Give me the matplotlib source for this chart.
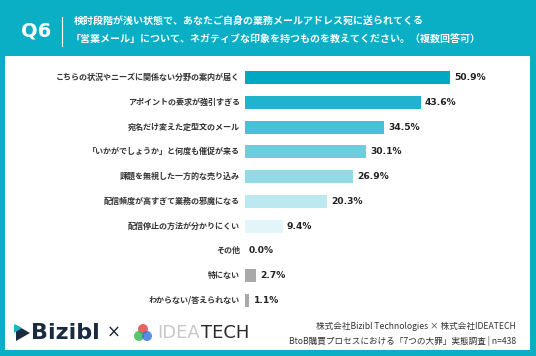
import matplotlib
matplotlib.use("Agg")
import matplotlib.pyplot as plt
from matplotlib.patches import Rectangle, Circle

plt.rcParams['font.family'] = ['Noto Sans CJK JP', 'DejaVu Sans']

# data
labels = [
    'こちらの状況やニーズに関係ない分野の案内が届く',
    'アポイントの要求が強引すぎる',
    '宛名だけ変えた定型文のメール',
    '「いかがでしょうか」と何度も催促が来る',
    '課題を無視した一方的な売り込み',
    '配信頻度が高すぎて業務の邪魔になる',
    '配信停止の方法が分かりにくい',
    'その他',
    '特にない',
    'わからない/答えられない',
]
values = [50.9, 43.6, 34.5, 30.1, 26.9, 20.3, 9.4, 0.0, 2.7, 1.1]
bar_colors = ['#00A8C3', '#1FB4CC', '#47C1D5', '#6CCDDD', '#94DAE6',
              '#BCE8F0', '#E4F5F9', '#A9A9A9', '#A9A9A9', '#A9A9A9']

title_lines = ['検討段階が浅い状態で、あなたご自身の業務メールアドレス宛に送られてくる',
               '「営業メール」について、ネガティブな印象を持つものを教えてください。（複数回答可）']
source_lines = ['株式会社Bizibl Technologies × 株式会社IDEATECH',
                'BtoB購買プロセスにおける「7つの大罪」実態調査 | n=438']

TEAL = '#0AAFC6'
W, H = 536, 356

fig = plt.figure(figsize=(W / 100, H / 100), dpi=100)
fig.patch.set_facecolor(TEAL)

# white panel
bg = fig.add_axes([0, 0, 1, 1])
bg.set_xlim(0, W)
bg.set_ylim(H, 0)
bg.axis('off')
bg.add_patch(Rectangle((5, 56), 525, 294, facecolor='white', edgecolor='none'))

# header
bg.text(21, 31, 'Q6', color='white', fontsize=14, fontweight='bold',
        va='center', ha='left', family=['DejaVu Sans'])
bg.plot([62, 62], [17, 46], color='white', lw=0.8)
bg.text(74, 22, title_lines[0], color='white', fontsize=7.2, fontweight='bold', va='center')
bg.text(71, 40, title_lines[1], color='white', fontsize=7.2, fontweight='bold', va='center')

# bars
ax = fig.add_axes([245 / W, 1 - 312.5 / H, (530 - 245) / W, (312.5 - 65.5) / H])
ax.set_facecolor('none')
ypos = list(range(len(labels)))
ax.barh(ypos, values, height=0.53, color=bar_colors, edgecolor='none')
ax.set_xlim(0, 285 / 4.03)
ax.set_ylim(len(labels) - 0.5, -0.5)
ax.axis('off')
for y, v, lab in zip(ypos, values, labels):
    ax.text(v + 1.0, y, f'{v:.1f}%', fontsize=6.6, fontweight='bold',
            va='center', ha='left', color='#222222', family=['DejaVu Sans'])
    ax.text(-1.2, y, lab, fontsize=5.8, fontweight='bold', va='center',
            ha='right', color='#333333')

# footer logos
bg.add_patch(plt.Polygon([[16, 325], [16, 341], [30, 333]], closed=True,
                         facecolor='#1B2B3E', edgecolor='none'))
bg.add_patch(plt.Polygon([[14, 324], [14, 333], [22, 328]], closed=True,
                         facecolor='#19B5C8', edgecolor='none'))
bg.text(31, 333, 'Bizibl', fontsize=16, fontweight='bold', color='#1B2B3E',
        va='center', ha='left', family=['DejaVu Sans'])
bg.text(114, 333, '×', fontsize=12, color='#1B2B3E', va='center', ha='center',
        family=['DejaVu Sans'])
for cx, cy, c in [(143, 329, '#E83A3A'), (139, 336, '#2EB84B'), (147, 336, '#2F6FE0')]:
    bg.add_patch(Circle((cx, cy), 5, facecolor=c, edgecolor='none', alpha=0.8))
bg.text(157, 333, 'IDEA', fontsize=13, color='#C8C8C8', va='center', ha='left',
        family=['DejaVu Sans'])
bg.text(201, 333, 'TECH', fontsize=13, color='#2A2A2A', va='center', ha='left',
        family=['DejaVu Sans'])

bg.text(516, 326, source_lines[0], fontsize=6.2, color='#333333', va='center', ha='right')
bg.text(516, 341, source_lines[1], fontsize=6.2, color='#333333', va='center', ha='right')

fig.savefig('out.png', dpi=100, facecolor=fig.get_facecolor())
